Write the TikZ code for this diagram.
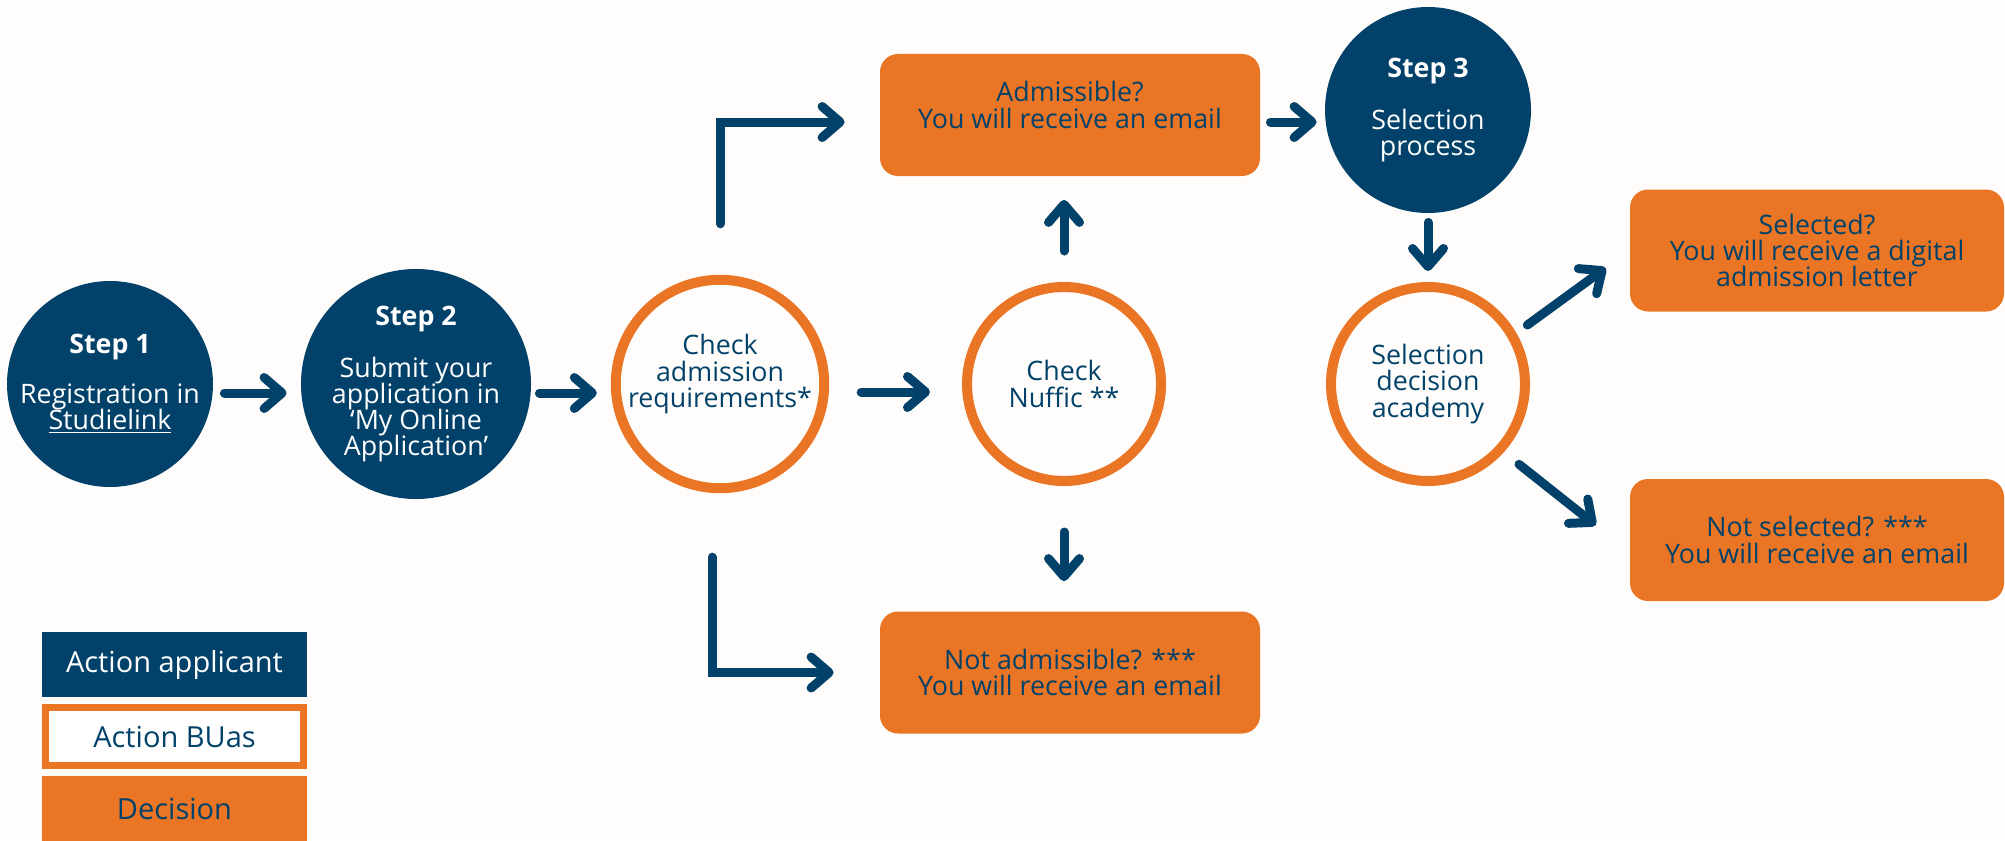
\documentclass[tikz,border=0pt]{standalone}
\usepackage{fontspec}
\setmainfont{Open Sans}
\usetikzlibrary{arrows.meta, positioning}

\definecolor{buasblue}{HTML}{02426A}
\definecolor{buasorange}{HTML}{EA7524}
\definecolor{paper}{HTML}{FEFDFB}

% tight lines, as in the flyer
\newcommand{\flowfont}{\fontsize{13.4}{13.1}\selectfont\lineskiplimit=-5pt\relax}

\begin{document}
\begin{tikzpicture}[
		x = 0.5pt, y = -0.5pt, % one unit = one pixel, y downwards
		> = {Straight Barb[length=9pt, width=15.5pt, round]}, % arrow head style
		line cap = round,
		node distance = 153pt, % distance between circles
		font = \flowfont
		]
		
		\tikzstyle{applicant}=[
		circle,
		fill = buasblue,
		text = white,
		minimum size = 103pt,
		inner sep = 0pt,
		align = center
		]
		
		\tikzstyle{buas}=[
		circle,
		draw = buasorange,
		line width = 5pt,
		text = buasblue,
		minimum size = 97pt,
		inner sep = 0pt,
		align = center
		]
		
		\tikzstyle{decision}=[
		rounded corners = 9pt,
		fill = buasorange,
		text = buasblue,
		minimum width = 190pt,
		minimum height = 61pt,
		align = center
		]
		
		\tikzstyle{flow}=[
		->,
		draw = buasblue,
		line width = 4.5pt
		]
		
		\tikzstyle{legend}=[
		minimum width = 132.5pt,
		minimum height = 32.5pt,
		inner sep = 0pt,
		font = \fontsize{14.5}{14.5}\selectfont
		]
		
		\useasboundingbox (0,0) rectangle (2005,840);
		\fill[paper] (0,0) rectangle (2005,840);
		
		\node[applicant] (step_1) at (110,384) {\textbf{Step 1}\\[12pt]Registration in\\\underline{Studielink}};
		\node[applicant] (step_2) [right of=step_1] {\textbf{Step 2}\\[13pt]Submit your\\application in\\‘My Online\\Application’};
		\node[buas] (check_adm) at (720,384) {Check\\admission\\requirements*\\[0pt]\mbox{}};
		\node[buas] (check_nuffic) [right of=check_adm, node distance=172pt] {Check\\Nuffic **};
		\node[decision] (box_admit) at (1070,115) {Admissible?\\You will receive an email\\[-3pt]\mbox{}};
		\node[decision] (box_notadmit) at (1070,672.5) {Not admissible? ***\\You will receive an email};
		\node[applicant] (step_3) at (1428,110) {\textbf{Step 3}\\[13pt]Selection\\process};
		\node[buas] (sel_dec) at (1428,384) {Selection\\decision\\academy};
		\node[decision, minimum width=187pt] (box_sel) at (1817,250.5) {Selected?\\You will receive a digital\\admission letter};
		\node[decision, minimum width=187pt] (box_notsel) at (1817,540) {Not selected? ***\\You will receive an email};
		
		% legend
		\node[legend, fill=buasblue, text=white] (leg_app) at (174.5,664.5) {Action applicant};
		\node[legend, draw=buasorange, line width=3.5pt, fill=white, text=buasblue, minimum width=129pt, minimum height=29pt] (leg_buas) [below of=leg_app, node distance=36pt] {Action BUas};
		\node[legend, fill=buasorange, text=buasblue] (leg_dec) [below of=leg_buas, node distance=36pt] {Decision};
		
		% main row
		\draw[flow, shorten <=5.5pt, shorten >=7pt] ([yshift=-4.5pt]step_1.east) -- ([yshift=-4.5pt]step_2.west);
		\draw[flow, shorten <=4pt, shorten >=7pt] ([yshift=-4.5pt]step_2.east) -- ([yshift=-4.5pt]check_adm.west);
		\draw[flow, shorten <=16pt, shorten >=16pt] ([yshift=-4pt]check_adm.east) -- ([yshift=-4pt]check_nuffic.west);
		
		% admission check
		\draw[flow, shorten <=25.5pt, shorten >=17.5pt] (check_adm.north) |- ([yshift=-3.5pt]box_admit.west);
		\draw[flow, shorten <=32pt, shorten >=23pt] ([xshift=-4pt]check_adm.south) |- (box_notadmit.west);
		\draw[flow, shorten <=15.5pt, shorten >=11.75pt] (check_nuffic.north) -- ([xshift=-3pt]box_admit.south);
		\draw[flow, shorten <=23pt, shorten >=15pt] (check_nuffic.south) -- ([xshift=-3pt]box_notadmit.north);
		
		% selection
		\draw[flow, shorten <=5pt, shorten >=4pt] ([yshift=-3.5pt]box_admit.east) -- ([yshift=-6pt]step_3.west);
		\draw[flow, shorten <=4.5pt, shorten >=5.5pt] (step_3.south) -- (sel_dec.north);
		\draw[flow, shorten <=6.8pt, shorten >=14.8pt] (sel_dec.30) -- (box_sel.west);
		\draw[flow, shorten <=9.7pt, shorten >=21.6pt] (sel_dec.-42) -- ([yshift=-6pt]box_notsel.west);
\end{tikzpicture}
\end{document}
